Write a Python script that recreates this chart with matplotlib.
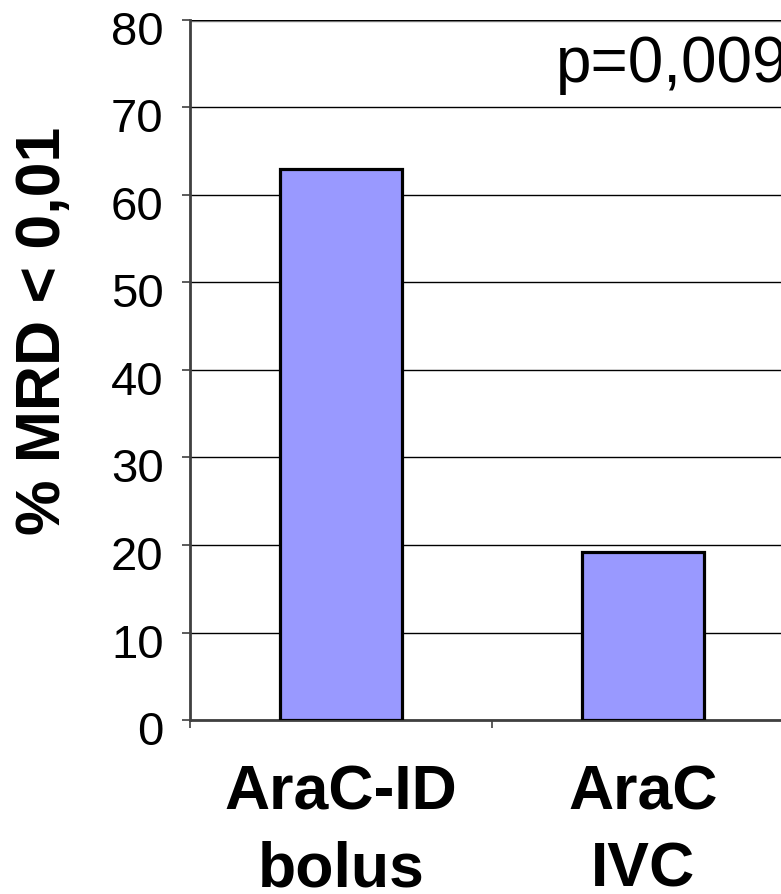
import matplotlib
matplotlib.use("Agg")
import matplotlib.pyplot as plt
import matplotlib.transforms as mtransforms

plt.rcParams['font.family'] = ['Liberation Sans', 'DejaVu Sans']

# Anteil Patienten mit MRD < 0,01 je Therapiearm
arms = ["AraC-ID\nbolus", "AraC\nIVC"]
mrd_pct = [63.0, 19.2]
p_text = "p=0,009"

fig = plt.figure(figsize=(7.81, 8.94), dpi=100)
# Achse reicht rechts absichtlich etwas ueber den Rand hinaus
ax = fig.add_axes([190 / 781, 174 / 894, 604 / 781, 700 / 894])

ax.bar(range(len(arms)), mrd_pct, width=0.404, color="#9999FF",
       edgecolor="black", linewidth=2.3, zorder=3)

ax.set_xlim(-0.5, 1.5)
ax.set_ylim(0, 80)
ax.set_yticks(range(0, 81, 10))
ax.yaxis.grid(True, color="black", linewidth=1, zorder=0)

for side in ["top", "right"]:
    ax.spines[side].set_visible(False)
ax.spines["left"].set_color("#404040")
ax.spines["left"].set_linewidth(2)
ax.spines["bottom"].set_color("#404040")
ax.spines["bottom"].set_linewidth(2)
ax.axhline(80, color="#909090", linewidth=2.5, zorder=1)

ax.tick_params(axis="y", direction="out", length=6, width=1.2,
               labelsize=34, pad=13, color="#404040")
for lab in ax.get_yticklabels():
    lab.set_transform(lab.get_transform() +
                      mtransforms.ScaledTranslation(0, -8 / 100, fig.dpi_scale_trans))

# Kategoriegrenzen als Striche, Beschriftung mittig
ax.set_xticks([-0.5, 0.5, 1.5])
ax.set_xticklabels([])
ax.tick_params(axis="x", which="major", direction="out", length=6, width=1.2,
               color="#404040")
ax.set_xticks(range(len(arms)), minor=True)
ax.set_xticklabels(arms, minor=True, fontsize=45, fontweight="bold",
                   linespacing=1.4)
ax.tick_params(axis="x", which="minor", length=0, pad=31)

ax.text(0.712, 72.9, p_text, fontsize=46, va="baseline", ha="left")

fig.text(44 / 781, 1 - 331 / 894, "% MRD < 0,01", rotation=90,
         fontsize=45, fontweight="bold", ha="center", va="center")

fig.savefig("out.png", dpi=100)
